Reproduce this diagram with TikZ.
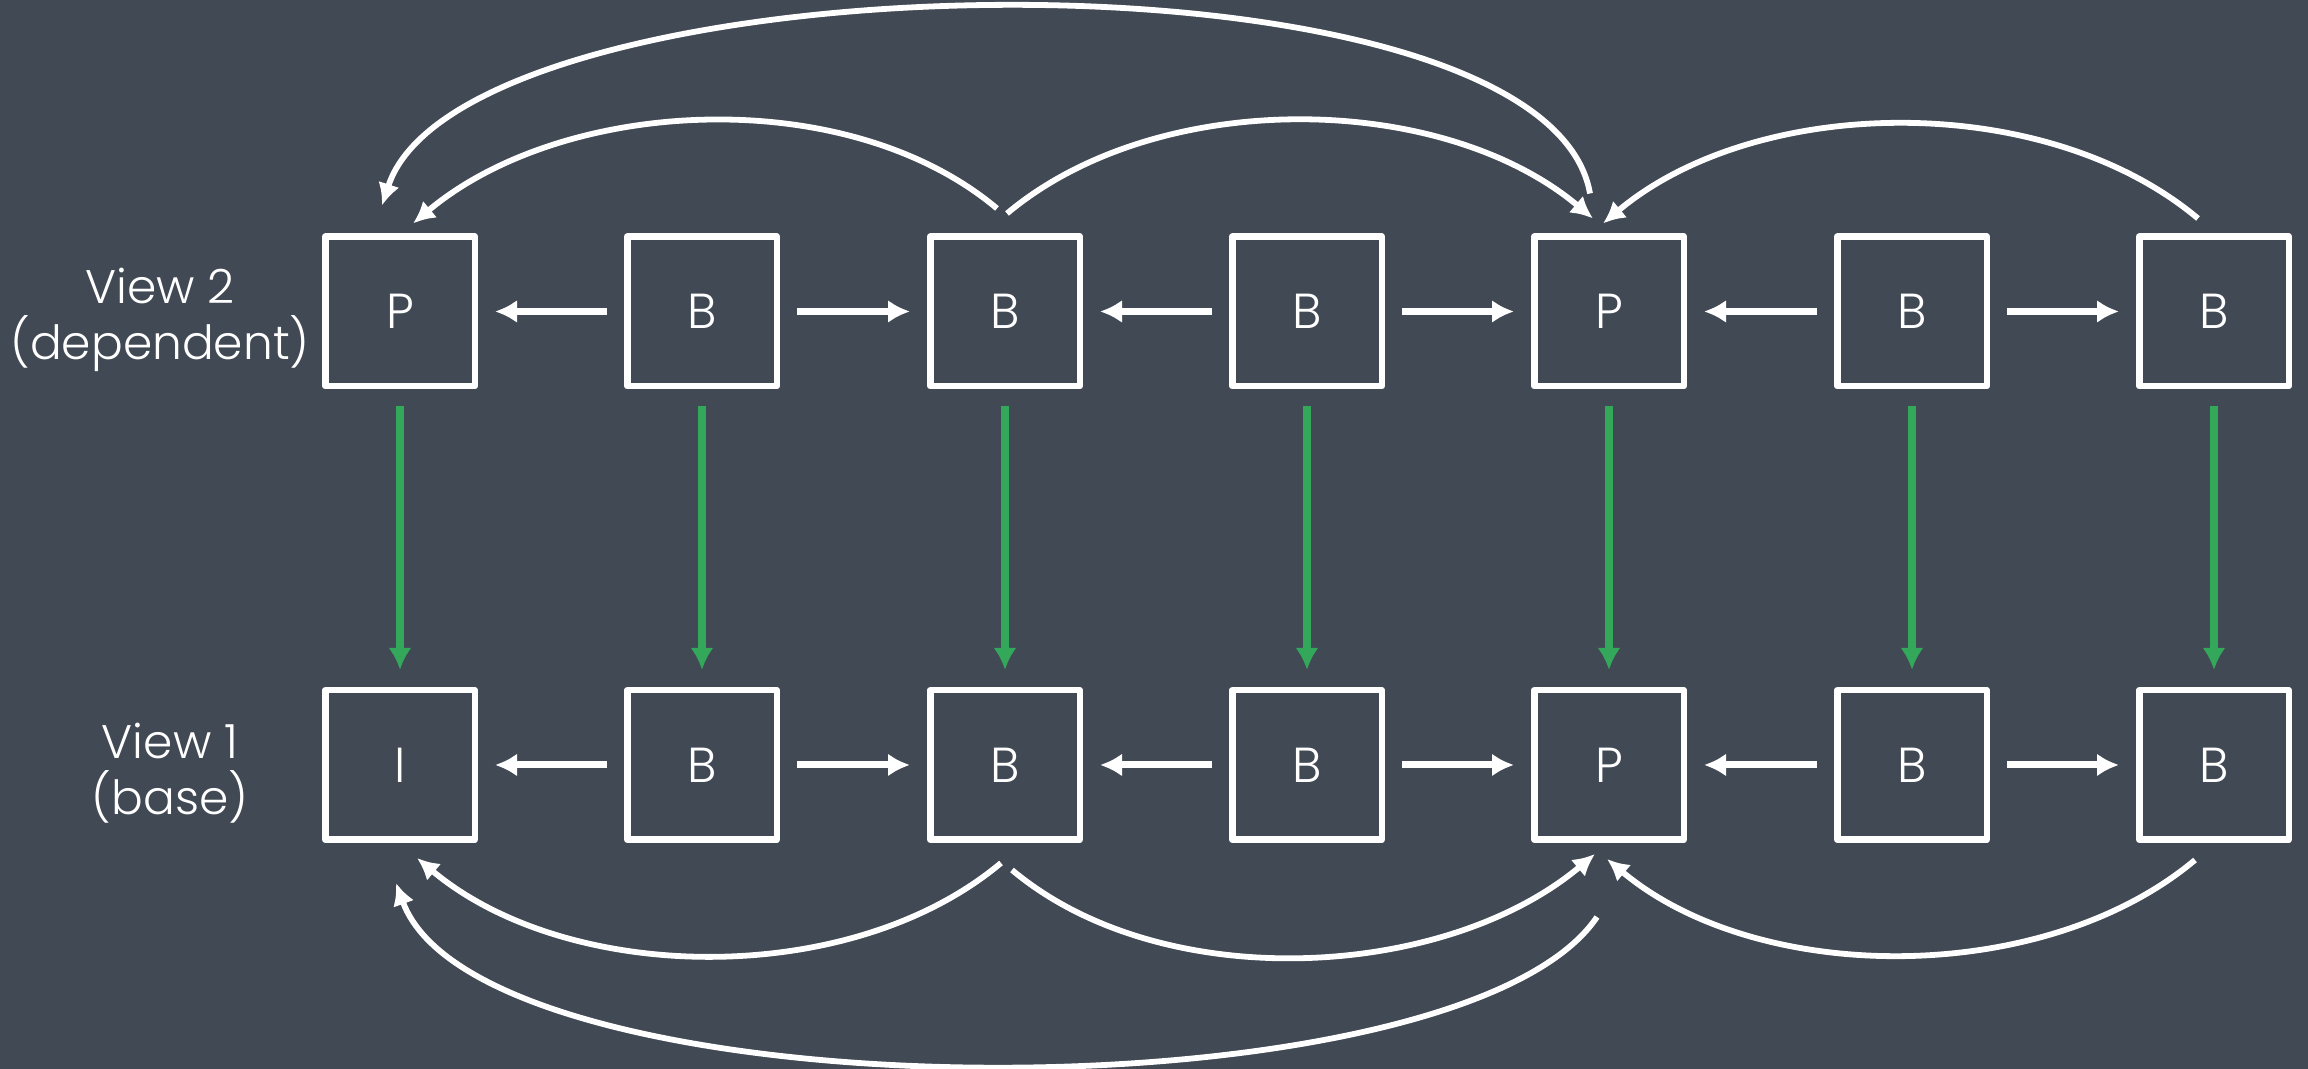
\documentclass[tikz,border=0pt]{standalone}
\usepackage{fontspec}
\IfFontExistsTF{Poppins Light}{\setmainfont{Poppins Light}}{\setmainfont{Poppins}}
\usetikzlibrary{arrows.meta}
\definecolor{slate}{RGB}{65,73,84}
\definecolor{ipgreen}{RGB}{51,168,91}

\begin{document}
\begin{tikzpicture}
    [frame/.style={draw=white,line width=0.065cm,line join=round,minimum size=1.495cm,inner sep=0pt,text=white,font=\fontsize{14}{15.6}\selectfont},
     lbl/.style={text=white,align=center,font=\fontsize{13.4}{15.8}\selectfont},
     pred/.style={white,line width=0.07cm,-{Latex[length=0.22cm,width=0.23cm]},shorten <=0.17cm,shorten >=0.17cm},
     inter/.style={ipgreen,line width=0.08cm,-{Latex[length=0.22cm,width=0.23cm]},shorten <=0.17cm,shorten >=0.17cm},
     ref/.style={white,line width=0.058cm,-{Latex[length=0.22cm,width=0.22cm]},looseness=0.86}]
    \useasboundingbox (0,0) rectangle (23.08,10.69);
    \fill[slate] (0,0) rectangle (23.08,10.69);

    % dependent view
    \node[frame] (d1) at (4.00,7.575) {P};
    \node[frame] (d2) at (7.02,7.575) {B};
    \node[frame] (d3) at (10.05,7.575) {B};
    \node[frame] (d4) at (13.07,7.575) {B};
    \node[frame] (d5) at (16.09,7.575) {P};
    \node[frame] (d6) at (19.12,7.575) {B};
    \node[frame] (d7) at (22.14,7.575) {B};
    \node[lbl] (dl) at (1.60,7.49) {View 2\\(dependent)};

    % base view
    \node[frame] (b1) at (4.00,3.04) {I};
    \node[frame] (b2) at (7.02,3.04) {B};
    \node[frame] (b3) at (10.05,3.04) {B};
    \node[frame] (b4) at (13.07,3.04) {B};
    \node[frame] (b5) at (16.09,3.04) {P};
    \node[frame] (b6) at (19.12,3.04) {B};
    \node[frame] (b7) at (22.14,3.04) {B};
    \node[lbl] (bl) at (1.70,2.96) {View 1\\(base)};

    \draw[pred] (d2) -- (d1);  \draw[pred] (d2) -- (d3);
    \draw[pred] (d4) -- (d3);  \draw[pred] (d4) -- (d5);
    \draw[pred] (d6) -- (d5);  \draw[pred] (d6) -- (d7);
    \draw[pred] (b2) -- (b1);  \draw[pred] (b2) -- (b3);
    \draw[pred] (b4) -- (b3);  \draw[pred] (b4) -- (b5);
    \draw[pred] (b6) -- (b5);  \draw[pred] (b6) -- (b7);

    % inter-view prediction
    \draw[inter] (d1) -- (b1);
    \draw[inter] (d2) -- (b2);
    \draw[inter] (d3) -- (b3);
    \draw[inter] (d4) -- (b4);
    \draw[inter] (d5) -- (b5);
    \draw[inter] (d6) -- (b6);
    \draw[inter] (d7) -- (b7);

    % references above the dependent view
    \draw[ref] ([shift={(-0.08,0.25)}]d3.north) to[out=140,in=40] ([shift={(0.13,0.10)}]d1.north);
    \draw[ref] ([shift={(0.02,0.20)}]d3.north) to[out=40,in=140] ([shift={(-0.16,0.15)}]d5.north);
    \draw[ref] ([shift={(-0.16,0.15)}]d7.north) to[out=140,in=40] ([shift={(-0.06,0.10)}]d5.north);
    \draw[ref] ([shift={(-0.19,0.40)}]d5.north) to[out=100,in=72,looseness=0.56] ([shift={(-0.18,0.28)}]d1.north);

    % references below the base view
    \draw[ref] ([shift={(-0.04,-0.20)}]b3.south) to[out=-140,in=-40] ([shift={(0.17,-0.15)}]b1.south);
    \draw[ref] ([shift={(0.07,-0.27)}]b3.south) to[out=-40,in=-140] ([shift={(-0.14,-0.11)}]b5.south);
    \draw[ref] ([shift={(-0.19,-0.17)}]b7.south) to[out=-140,in=-40] ([shift={(-0.02,-0.16)}]b5.south);
    \draw[ref] ([shift={(-0.12,-0.74)}]b5.south) to[out=-124,in=-70,looseness=0.53] ([shift={(-0.04,-0.40)}]b1.south);
  \end{tikzpicture}
\end{document}
